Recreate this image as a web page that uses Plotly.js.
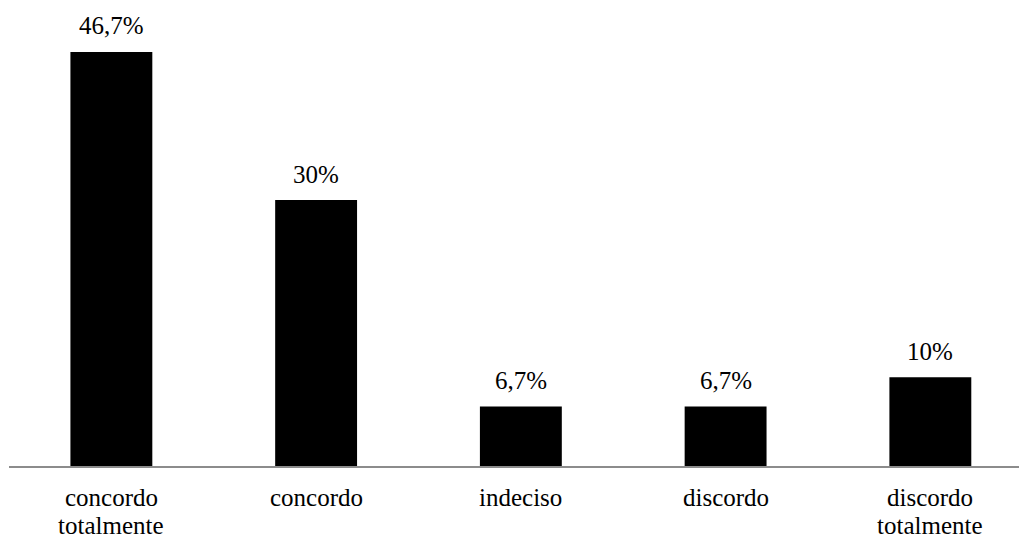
<!DOCTYPE html>
<html>
<head>
<meta charset="utf-8">
<script src="https://cdn.plot.ly/plotly-3.0.1.min.js"></script>
<style>
html,body{margin:0;padding:0;background:#fff;}
#chart{width:1019px;height:538px;position:relative;z-index:1;}
#pre{position:absolute;left:20px;top:20px;z-index:0;font-family:"Liberation Serif";font-size:25px;color:#fff;}
</style>
</head>
<body>
<span id="pre">concordo</span>
<div id="chart"></div>
<pre id="dbg" style="position:absolute;left:500px;top:5px;font-size:11px;color:#fff;margin:0;z-index:0"></pre>
<script>
var categories = ["concordo<br>totalmente", "concordo", "indeciso", "discordo", "discordo<br>totalmente"];
var values = [46.7, 30, 6.7, 6.7, 10];
var labels = ["46,7%", "30%", "6,7%", "6,7%", "10%"];

function serif(sz) { return {family: "Liberation Serif", size: sz || 25, color: "#000"}; }

var annotations = [];
values.forEach(function (v, i) {
  annotations.push({x: i, y: v, xref: "x", yref: "y", text: labels[i], showarrow: false,
          yanchor: "middle", yshift: 26, font: serif(25)});
});
categories.forEach(function (c, i) {
  c.split("<br>").forEach(function (line, j) {
    annotations.push({x: i, y: 0, xref: "x", yref: "y", text: line, showarrow: false,
            yanchor: "middle", yshift: -31 - 28 * j, font: serif(25)});
  });
});

Plotly.newPlot("chart", [{
  type: "bar",
  x: [0, 1, 2, 3, 4],
  y: values,
  marker: {color: "#000", line: {width: 0}},
  hoverinfo: "none"
}], {
  width: 1019, height: 538,
  margin: {l: 9, r: 0, t: 0, b: 72},
  paper_bgcolor: "#fff", plot_bgcolor: "#fff",
  bargap: 0.6,
  showlegend: false,
  font: serif(25),
  xaxis: {range: [-0.5, 4.433], tickmode: "array", tickvals: [0, 1, 2, 3, 4], ticktext: categories,
          showticklabels: false,
          showline: true, linecolor: "#8c8c8c", linewidth: 2, showgrid: false, zeroline: false,
          ticks: "", fixedrange: true},
  yaxis: {range: [0, 52.56], visible: false, showgrid: false, zeroline: false, fixedrange: true},
  annotations: annotations
}, {displayModeBar: false}).then(function (gd) {
  var t = gd.querySelector('.annotation-text');
  var f = t ? getComputedStyle(t).fontFamily : '';
  document.getElementById('dbg').textContent = f ? '\u00a0' : '\u00a0';
  if (document.fonts && document.fonts.load) {
    document.fonts.load('25px "Liberation Serif"').then(function () { Plotly.redraw(gd); });
  }
});
</script>
</body>
</html>
